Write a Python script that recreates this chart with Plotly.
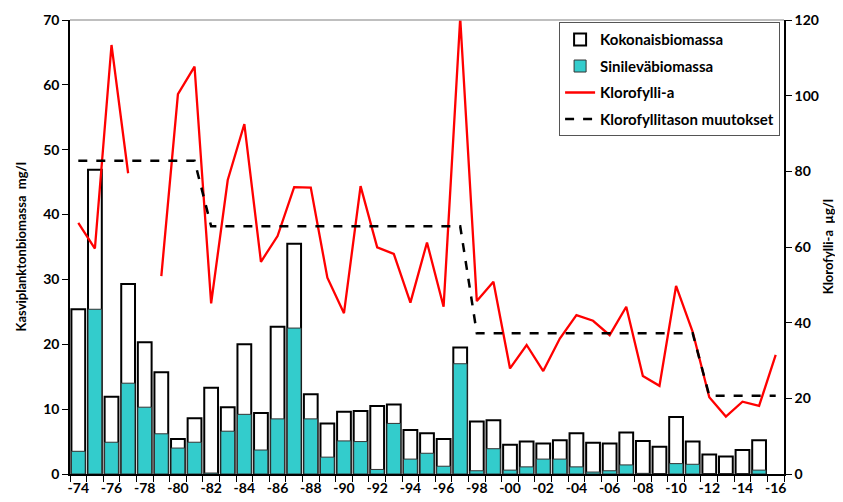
import plotly.graph_objects as go

years = list(range(1974, 2017))
total_biomass = [25.4, 46.9, 11.9, 29.3, 20.3, 15.7, 5.4, 8.6, 13.3, 10.3,
                 20.0, 9.4, 22.7, 35.5, 12.3, 7.8, 9.6, 9.7, 10.5, 10.7,
                 6.8, 6.3, 5.4, 19.5, 8.1, 8.3, 4.5, 5.0, 4.7, 5.2,
                 6.3, 4.8, 4.7, 6.4, 5.1, 4.2, 8.8, 5.0, 3.0, 2.7,
                 3.7, 5.2, None]
cyano_biomass = [3.5, 25.4, 4.9, 14.0, 10.3, 6.2, 4.0, 4.9, 0.15, 6.6,
                 9.2, 3.7, 8.5, 22.5, 8.5, 2.6, 5.1, 5.0, 0.7, 7.8,
                 2.3, 3.2, 1.2, 17.0, 0.5, 3.9, 0.6, 1.1, 2.3, 2.3,
                 1.1, 0.3, 0.5, 1.4, 0.1, 0.0, 1.6, 1.5, 0.0, 0.0,
                 0.0, 0.6, None]
chlorophyll = [66.4, 59.6, 113.4, 79.5, None, 52.3, 100.4, 107.7, 45.1, 77.7,
               92.5, 56.1, 62.9, 75.8, 75.7, 51.9, 42.5, 76.1, 59.9, 58.2,
               45.3, 61.2, 44.2, 120.5, 45.7, 50.8, 27.9, 34.1, 27.2, 35.8,
               42.0, 40.5, 36.7, 44.2, 25.9, 23.3, 49.7, 37.6, 20.3, 15.2,
               19.1, 18.0, 31.5]
chl_level = [82.8] * 8 + [65.5] * 16 + [37.2] * 14 + [20.7] * 5

label_years = list(range(1974, 2017, 2))
tick_text = ["-" + str(y)[-2:] for y in label_years]

FONT = "Lato"
TICKFONT = dict(family=FONT, size=14, weight="bold", color="black")

fig = go.Figure()
fig.add_trace(go.Bar(
    x=years, y=total_biomass, name="Kokonaisbiomassa",
    marker=dict(color="white", line=dict(color="black", width=2)),
    legendgroup="a"))
fig.add_trace(go.Bar(
    x=years, y=cyano_biomass, name="Sinileväbiomassa",
    marker=dict(color="#33CCCC", line=dict(color="#333333", width=1)),
    legendgroup="b"))
fig.add_trace(go.Scatter(
    x=years, y=chlorophyll, name="Klorofylli-a", mode="lines",
    line=dict(color="#FF0000", width=2.3), yaxis="y2", connectgaps=False,
    legendgroup="c"))
fig.add_trace(go.Scatter(
    x=years, y=chl_level, name="Klorofyllitason muutokset", mode="lines",
    line=dict(color="black", width=2.5, dash="dash"), yaxis="y2",
    legendgroup="d"))

# page body adds an 8px offset; compensate with figure size and margins
fig.update_layout(
    width=835, height=494,
    margin=dict(l=62, r=59, t=12, b=28, autoexpand=False),
    paper_bgcolor="white", plot_bgcolor="white",
    barmode="overlay", bargap=0.17,
    font=dict(family=FONT, size=13, color="black"),
    showlegend=True,
    legend=dict(x=0.685, y=0.995, xanchor="left", yanchor="top",
                bordercolor="#555555", borderwidth=1, bgcolor="white",
                font=dict(family=FONT, size=15, color="black", weight="bold"),
                tracegroupgap=4),
    xaxis=dict(
        range=[1973.5, 2016.5], tickvals=label_years, ticktext=tick_text,
        ticks="", showgrid=False, zeroline=False, automargin=False,
        showline=True, linecolor="black", linewidth=1.5,
        tickfont=TICKFONT,
        minor=dict(ticks="outside", tick0=1973.5, dtick=1, ticklen=6,
                   tickcolor="black", tickwidth=1, showgrid=False)),
    yaxis=dict(
        range=[0, 70], dtick=10, ticks="outside", ticklen=6,
        tickcolor="black", showgrid=False, zeroline=False, automargin=False,
        showline=True, linecolor="black", linewidth=1.5,
        tickfont=TICKFONT),
    yaxis2=dict(
        range=[0, 120], dtick=20, overlaying="y", side="right",
        ticks="outside", ticklen=6, tickcolor="black", showgrid=False,
        zeroline=False, automargin=False,
        showline=True, linecolor="black", linewidth=1.5,
        tickfont=TICKFONT),
    annotations=[
        dict(text="Kasviplanktonbiomassa  mg/l", xref="paper", yref="paper",
             x=-0.068, y=0.5, xanchor="center", yanchor="middle",
             textangle=-90, showarrow=False,
             font=dict(family=FONT, size=13, weight="bold", color="black")),
        dict(text="Klorofylli-a  µg/l", xref="paper", yref="paper",
             x=1.062, y=0.5, xanchor="center", yanchor="middle",
             textangle=-90, showarrow=False,
             font=dict(family=FONT, size=13, weight="bold", color="black")),
    ],
    shapes=[dict(type="line", xref="paper", yref="paper", x0=0, x1=1,
                 y0=1, y1=1, line=dict(color="#AAAAAA", width=1.5))],
)

fig.write_html("out.html")
